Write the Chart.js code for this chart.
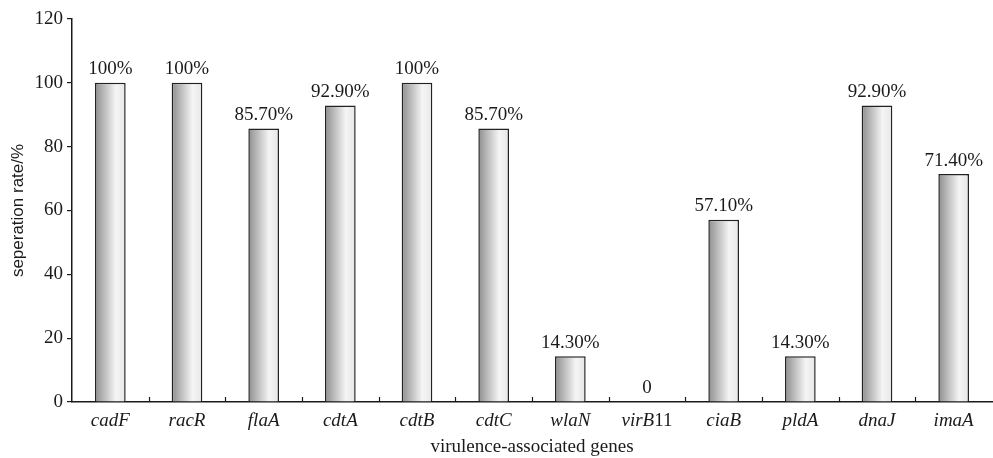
<!DOCTYPE html>
<html lang="en">
<head>
  <meta charset="UTF-8" />
  <title>Virulence-associated genes</title>
  <script src="https://cdn.jsdelivr.net/npm/chart.js"></script>
  <style>
    body { margin: 0; background: #fff; }
    #wrap { width: 993px; height: 458px; position: relative; }
  </style>
</head>
<body>
  <div id="wrap"><canvas id="rateChart"></canvas></div>

  <script>
    // data
    const genes = ["cadF", "racR", "flaA", "cdtA", "cdtB", "cdtC", "wlaN", "virB11", "ciaB", "pldA", "dnaJ", "imaA"];
    const rates = [100, 100, 85.7, 92.9, 100, 85.7, 14.3, 0, 57.1, 14.3, 92.9, 71.4];
    const rateLabels = ["100%", "100%", "85.70%", "92.90%", "100%", "85.70%", "14.30%", "0", "57.10%", "14.30%", "92.90%", "71.40%"];
    const yTicks = [0, 20, 40, 60, 80, 100, 120];

    const SERIF = "'Liberation Serif', 'Times New Roman', serif";
    const INK = "#1a1a1a";
    const BAR_FRAC = 0.4;
    const FS = 19;

    function makeGradient(c, x0, x1) {
      const g = c.createLinearGradient(x0, 0, x1, 0);
      g.addColorStop(0, "#8e8e8e");
      g.addColorStop(0.68, "#f5f5f5");
      g.addColorStop(1, "#e6e6e6");
      return g;
    }

    // give every bar its own horizontal grey-to-white fill once positions are known
    const barShading = {
      id: "barShading",
      beforeDatasetsDraw(chart) {
        const meta = chart.getDatasetMeta(0);
        meta.data.forEach(bar => {
          const x0 = bar.x - bar.width / 2, x1 = bar.x + bar.width / 2;
          if (isFinite(x0) && isFinite(x1) && bar.options) {
            bar.options.backgroundColor = makeGradient(chart.ctx, x0, x1);
          }
        });
      }
    };

    // value labels, small inner x ticks, mixed italic category names
    const decorations = {
      id: "decorations",
      afterDatasetsDraw(chart) {
        const c = chart.ctx;
        const xs = chart.scales.x;
        const area = chart.chartArea;
        const meta = chart.getDatasetMeta(0);

        c.save();
        c.fillStyle = INK;
        c.font = FS + "px " + SERIF;
        c.textAlign = "center";
        c.textBaseline = "bottom";
        meta.data.forEach((bar, i) => {
          c.fillText(rateLabels[i], bar.x, bar.y - 4);
        });

        // tick marks between categories, pointing up
        c.strokeStyle = INK;
        c.lineWidth = 1.2;
        const step = xs.width / genes.length;
        for (let k = 1; k < genes.length; k++) {
          const x = Math.round(xs.left + step * k) + 0.5;
          c.beginPath();
          c.moveTo(x, area.bottom);
          c.lineTo(x, area.bottom - 5);
          c.stroke();
        }

        // category names: italic gene name, trailing digits upright
        c.textAlign = "left";
        c.textBaseline = "middle";
        const y = area.bottom + 19;
        genes.forEach((name, i) => {
          const m = name.match(/^(.*?)(\d*)$/);
          const it = m[1], rest = m[2];
          c.font = "italic " + FS + "px " + SERIF;
          const w1 = c.measureText(it).width;
          c.font = FS + "px " + SERIF;
          const w2 = c.measureText(rest).width;
          const x0 = xs.getPixelForValue(i) - (w1 + w2) / 2;
          c.font = "italic " + FS + "px " + SERIF;
          c.fillText(it, x0, y);
          c.font = FS + "px " + SERIF;
          c.fillText(rest, x0 + w1, y);
        });
        c.restore();
      }
    };

    new Chart(document.getElementById("rateChart"), {
      type: "bar",
      data: {
        labels: genes,
        datasets: [{
          data: rates,
          backgroundColor: ctx => "#cccccc",
          borderColor: "#222",
          borderWidth: 1.5,
          borderSkipped: "bottom",
          categoryPercentage: 1,
          barPercentage: BAR_FRAC
        }]
      },
      options: {
        responsive: true,
        maintainAspectRatio: false,
        animation: false,
        layout: { padding: { top: 19, right: 1, left: 0, bottom: 0 } },
        plugins: { legend: { display: false }, tooltip: { enabled: false } },
        scales: {
          x: {
            offset: true,
            grid: { display: false },
            border: { display: true, color: INK, width: 1.5 },
            ticks: { display: false },
            title: {
              display: true,
              text: "virulence-associated genes",
              color: INK,
              font: { family: SERIF, size: FS },
              padding: { top: 0, bottom: 0 }
            },
            afterFit(scale) { scale.height = 56; }
          },
          y: {
            min: 0,
            max: 120,
            afterBuildTicks(scale) { scale.ticks = yTicks.map(v => ({ value: v })); },
            grid: { drawOnChartArea: false, drawTicks: true, tickLength: 5, color: INK, lineWidth: 1.2 },
            border: { display: true, color: INK, width: 1.5 },
            ticks: { color: INK, padding: 4, font: { family: SERIF, size: FS } },
            title: {
              display: true,
              text: "seperation rate/%",
              color: INK,
              font: { family: "'Liberation Sans', Arial, sans-serif", size: 17 },
              padding: { top: 8, bottom: 0 }
            },
            afterFit(scale) { scale.width = 72; }
          }
        }
      },
      plugins: [barShading, decorations]
    });
  </script>
</body>
</html>
